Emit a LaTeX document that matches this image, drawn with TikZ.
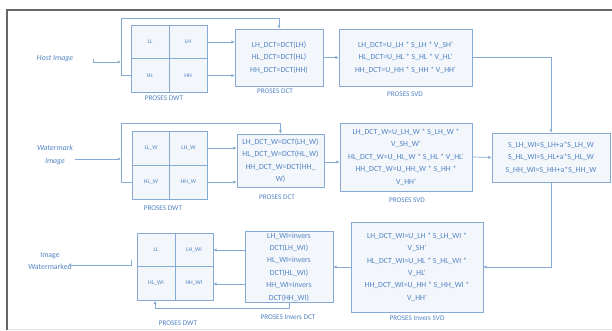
\documentclass[tikz,border=0pt]{standalone}
\usepackage{fontspec}
\setmainfont{Carlito}
\usetikzlibrary{arrows.meta}
\definecolor{lc}{HTML}{86AAD3}
\definecolor{tc}{HTML}{5284C4}
\definecolor{bf}{HTML}{F3F6FA}
\tikzset{
  box/.style={draw=lc, fill=bf, line width=0.7pt, inner sep=1pt, align=center, text=tc, font=\fontsize{7.8}{12.4}\selectfont},
  cell/.style={draw=lc, fill=bf, line width=0.7pt, minimum width=38pt, minimum height=34pt, inner sep=0pt, font=\fontsize{5.8}{6}\selectfont, text=tc},
  captxt/.style={text=tc, inner sep=0pt, font=\fontsize{7.2}{8}\selectfont},
  lbl/.style={text=tc, inner sep=0pt, align=center, font=\fontsize{7.8}{12.5}\selectfont},
  arr/.style={draw=lc, line width=0.7pt, -{Latex[length=3.2pt,width=3.2pt]}},
  ln/.style={draw=lc, line width=0.7pt}
}
\begin{document}
\begin{tikzpicture}[x=1pt,y=-1pt]
\useasboundingbox (0,0) rectangle (612,331);
\fill[white] (0,0) rectangle (612,331);
\draw[gray!25, line width=1pt] (7,329) -- (612,329);
\draw[black!60, line width=1.2pt] (7,330) -- (7,10) -- (612,10);

% ---------- Host row ----------
\node[lbl, font=\fontsize{7.8}{12.5}\selectfont\itshape] (host) at (55,59) {Host Image};
\coordinate (hin) at (93,62);
\coordinate (hinend) at (121,62);
\node[cell] (hll) at (150,42) {LL};
\node[cell] (hlh) at (188,42) {LH};
\node[cell] (hhl) at (150,75.5) {HL};
\node[cell] (hhh) at (188,75.5) {HH};
\node[captxt] (hdwtc) at (164,98) {PROSES DWT};
\node[box, minimum width=88pt, minimum height=57pt] (hdct) at (279,57.5) {LH\_DCT=DCT(LH)\\HL\_DCT=DCT(HL)\\HH\_DCT=DCT(HH)};
\node[captxt] (hdctc) at (275,91) {PROSES DCT};
\node[box, minimum width=133pt, minimum height=57pt] (hsvd) at (405.5,57.5) {LH\_DCT=U\_LH * S\_LH * V\_SH'\\HL\_DCT=U\_HL * S\_HL * V\_HL'\\HH\_DCT=U\_HH * S\_HH * V\_HH'};
\node[captxt] (hsvdc) at (405,94) {PROSES SVD};

\draw[ln] (93,59) -- (hin);
\draw[arr] (hin) -- (hinend);
\draw[arr] (hhl.west) -- ++(-9,0) |- (hdct.north |- 0,18) -- (hdct.north);
\draw[arr] (hlh.east) -- (hdct.west |- hlh.east);
\draw[arr] (hhh.east) -- (hdct.west |- hhh.east);
\draw[arr] (hdct.east) -- (hsvd.west);

% ---------- Watermark row ----------
\node[lbl, font=\fontsize{7.8}{12.5}\selectfont\itshape] (wm) at (55,155) {Watermark\\Image};
\coordinate (win) at (75,159);
\coordinate (winend) at (121,159);
\node[cell] (wll) at (151,148) {LL\_W};
\node[cell] (wlh) at (188.5,148) {LH\_W};
\node[cell] (whl) at (151,182) {HL\_W};
\node[cell] (whh) at (188.5,182) {HH\_W};
\node[captxt] (wdwtc) at (163,208) {PROSES DWT};
\node[box, minimum width=87pt, minimum height=53pt] (wdct) at (280.5,160.5) {LH\_DCT\_W=DCT(LH\_W)\\HL\_DCT\_W=DCT(HL\_W)\\HH\_DCT\_W=DCT(HH\_\\W)};
\node[captxt] (wdctc) at (277,197) {PROSES DCT};
\node[box, minimum width=132pt, minimum height=68pt] (wsvd) at (406,157) {LH\_DCT\_W=U\_LH\_W * S\_LH\_W *\\V\_SH\_W'\\HL\_DCT\_W=U\_HL\_W * S\_HL * V\_HL'\\HH\_DCT\_W=U\_HH\_W * S\_HH *\\V\_HH'};
\node[captxt] (wsvdc) at (407,200) {PROSES SVD};
\node[box, minimum width=118pt, minimum height=49pt] (comb) at (551,157.5) {S\_LH\_WI=S\_LH+a*S\_LH\_W\\S\_HL\_WI=S\_HL+a*S\_HL\_W\\S\_HH\_WI=S\_HH+a*S\_HH\_W};

\draw[arr] (win) -- (winend);
\draw[arr] (whl.west) -- ++(-10,0) |- (wdct.north |- 0,123) -- (wdct.north);
\draw[arr] (wlh.east) -- (wdct.west |- wlh.east);
\draw[arr] (whh.east) -- (wdct.west |- whh.east);
\draw[arr] (wdct.east |- 0,162) -- (wsvd.west |- 0,162);
\draw[arr] (wsvd.east) -- (comb.west);
\draw[arr] (hsvd.east) -- (comb.north |- hsvd.east) -- (comb.north);

% ---------- Bottom row ----------
\node[box, minimum width=132pt, minimum height=90pt] (isvd) at (417,267) {LH\_DCT\_WI=U\_LH * S\_LH\_WI *\\V\_SH'\\HL\_DCT\_WI=U\_HL * S\_HL\_WI *\\V\_HL'\\HH\_DCT\_WI=U\_HH * S\_HH\_WI *\\V\_HH'};
\node[captxt] (isvdc) at (417,318) {PROSES Invers SVD};
\node[box, minimum width=88pt, minimum height=68pt] (idct) at (289,267) {LH\_WI=invers\\DCT(LH\_WI)\\HL\_WI=invers\\DCT(HL\_WI)\\HH\_WI=invers\\DCT(HH\_WI)};
\node[captxt] (idctc) at (288,317) {PROSES Invers DCT};
\node[cell] (bll) at (156,250) {LL};
\node[cell] (blh) at (194,250) {LH\_WI};
\node[cell] (bhl) at (156,283.5) {HL\_WI};
\node[cell] (bhh) at (194,283.5) {HH\_WI};
\node[captxt] (bdwtc) at (178,323) {PROSES DWT};
\node[lbl] (out) at (50,261) {Image\\Watermarked};
\coordinate (ostart) at (131,260);
\coordinate (oend) at (68,265);

\draw[arr] (comb.south) -- (comb.south |- isvd.east) -- (isvd.east);
\draw[arr] (isvd.west) -- (idct.east);
\draw[arr] (idct.west |- 0,250) -- (blh.east |- 0,250);
\draw[arr] (idct.west |- 0,284) -- (bhh.east |- 0,284);
\draw[arr] (idct.south) -- (idct.south |- 0,308) -- (155,308) -- (bhl.south -| 155,0);
\draw[arr] (ostart) |- (oend);
\end{tikzpicture}
\end{document}
